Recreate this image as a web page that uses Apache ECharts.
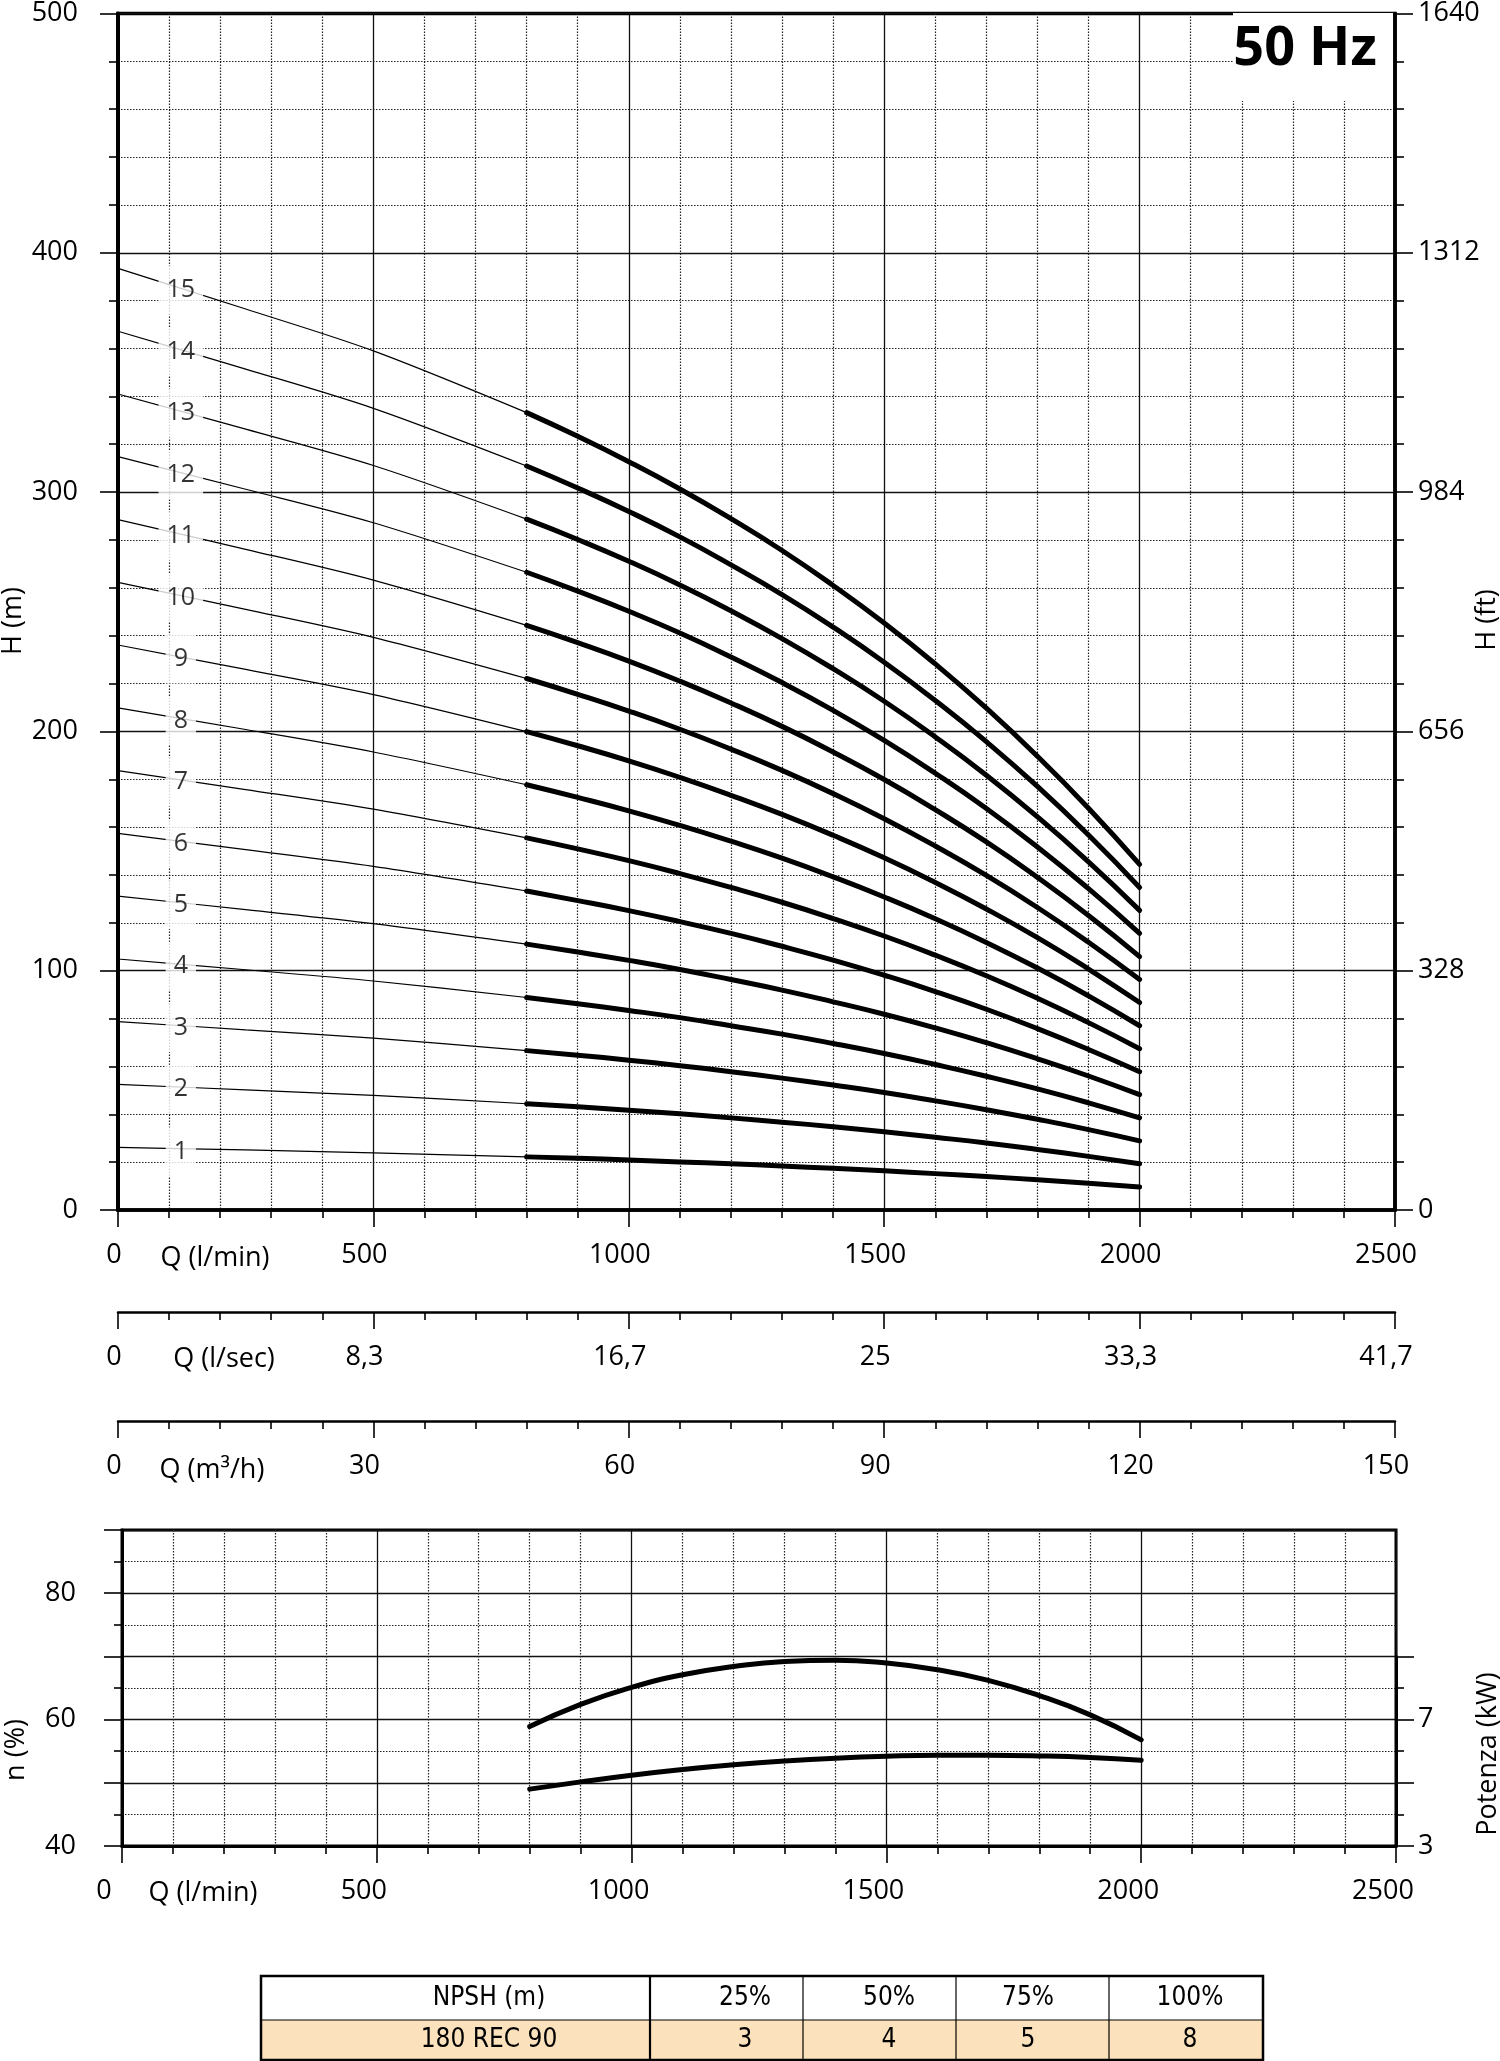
<!DOCTYPE html>
<html><head><meta charset="utf-8">
<script src="https://cdn.jsdelivr.net/npm/echarts@6/dist/echarts.min.js"></script>
<style>html,body{margin:0;padding:0;background:#fff}#c{width:1500px;height:2061px}</style>
</head><body><div id="c"></div>
<script>
// ---------------- DATA ----------------
const stageNames = ['1','2','3','4','5','6','7','8','9','10','11','12','13','14','15'];
const qThin = [0, 250, 500, 800];
const qThick = [800, 900, 1000, 1100, 1200, 1300, 1400, 1500, 1600, 1700, 1800, 1900, 2000];
const headThin = [
  [26.2, 25.1, 23.9, 22.2],
  [52.5, 50.2, 47.9, 44.4],
  [78.7, 75.3, 71.8, 66.6],
  [104.9, 100.4, 95.7, 88.8],
  [131.2, 125.5, 119.7, 111.1],
  [157.4, 150.6, 143.6, 133.3],
  [183.6, 175.7, 167.5, 155.5],
  [209.8, 200.8, 191.4, 177.7],
  [236.1, 225.9, 215.4, 199.9],
  [262.3, 251.0, 239.3, 222.1],
  [288.5, 276.1, 263.2, 244.3],
  [314.8, 301.2, 287.2, 266.5],
  [341.0, 326.3, 311.1, 288.7],
  [367.2, 351.4, 335.0, 310.9],
  [393.5, 376.5, 359.0, 333.2]
];
const headThick = [
  [22.2, 21.6, 20.9, 20.1, 19.3, 18.4, 17.4, 16.4, 15.2, 14.0, 12.6, 11.2, 9.6],
  [44.4, 43.1, 41.7, 40.2, 38.5, 36.7, 34.8, 32.7, 30.4, 28.0, 25.3, 22.4, 19.3],
  [66.6, 64.7, 62.6, 60.3, 57.8, 55.1, 52.2, 49.1, 45.6, 41.9, 37.9, 33.6, 28.9],
  [88.8, 86.2, 83.4, 80.4, 77.0, 73.5, 69.6, 65.4, 60.8, 55.9, 50.6, 44.8, 38.5],
  [111.1, 107.8, 104.3, 100.5, 96.3, 91.9, 87.0, 81.8, 76.1, 69.9, 63.2, 56.0, 48.2],
  [133.3, 129.3, 125.1, 120.5, 115.6, 110.2, 104.4, 98.1, 91.3, 83.9, 75.8, 67.1, 57.8],
  [155.5, 150.9, 146.0, 140.6, 134.8, 128.6, 121.8, 114.5, 106.5, 97.9, 88.5, 78.3, 67.4],
  [177.7, 172.4, 166.8, 160.7, 154.1, 147.0, 139.2, 130.8, 121.7, 111.8, 101.1, 89.5, 77.0],
  [199.9, 194.0, 187.7, 180.8, 173.3, 165.3, 156.6, 147.2, 136.9, 125.8, 113.8, 100.7, 86.7],
  [222.1, 215.5, 208.5, 200.9, 192.6, 183.7, 174.0, 163.5, 152.1, 139.8, 126.4, 111.9, 96.3],
  [244.3, 237.1, 229.4, 221.0, 211.9, 202.1, 191.4, 179.9, 167.3, 153.8, 139.0, 123.1, 105.9],
  [266.5, 258.6, 250.2, 241.1, 231.1, 220.4, 208.8, 196.2, 182.5, 167.8, 151.7, 134.3, 115.6],
  [288.7, 280.2, 271.1, 261.2, 250.4, 238.8, 226.2, 212.6, 197.7, 181.7, 164.3, 145.5, 125.2],
  [310.9, 301.7, 291.9, 281.3, 269.6, 257.2, 243.6, 228.9, 212.9, 195.7, 177.0, 156.7, 134.8],
  [333.2, 323.3, 312.7, 301.3, 288.9, 275.6, 261.0, 245.3, 228.2, 209.7, 189.6, 167.9, 144.4]
];
const stageLabelQ = 123;
const stageLabelH = [24.3, 50.5, 76.2, 101.9, 127.6, 153.2, 178.9, 204.6, 230.3, 256.0, 281.6, 307.3, 333.0, 358.7, 384.4];

const qLow = [800, 900, 1000, 1100, 1200, 1300, 1400, 1500, 1600, 1700, 1800, 1900, 2000];
const efficiency = [58.9, 62.4, 65.1, 67.1, 68.4, 69.2, 69.4, 68.95, 67.9, 66.2, 63.8, 60.75, 56.8];
const powerKW = [4.80, 5.03, 5.24, 5.42, 5.57, 5.69, 5.78, 5.84, 5.87, 5.87, 5.85, 5.80, 5.71];

const qMinLabels = ['0', '500', '1000', '1500', '2000', '2500'];
const qSecLabels = ['0', '8,3', '16,7', '25', '33,3', '41,7'];
const qM3hLabels = ['0', '30', '60', '90', '120', '150'];
const hFtLabels = ['0', '328', '656', '984', '1312', '1640'];
const effLabelValues = [40, 60, 80];
const kwLabelValues = [3, 7];

const npshHeader = ['NPSH (m)', '25%', '50%', '75%', '100%'];
const npshRow = ['180 REC 90', '3', '4', '5', '8'];

// ---------------- STYLE ----------------
const FONT = "'Open Sans', 'Noto Sans', sans-serif";
const NARROW = "'Liberation Sans Narrow', 'DejaVu Sans Condensed', 'Open Sans', sans-serif";
const BLACK = '#000';
const dotted = {color: '#222', width: 1.2, type: [1.5, 1.5]};
const solid = {color: '#111', width: 1.3};

function richFor(padZero, padOther) {
  const base = {fontSize: 27, fontFamily: FONT, color: BLACK};
  return {
    z: Object.assign({padding: [0, padZero, 0, 0]}, base),
    n: Object.assign({padding: [0, padOther, 0, 0]}, base)
  };
}
function qAxis(grid, labels, padZero, padOther, opts) {
  return Object.assign({
    gridIndex: grid, type: 'value', min: 0, max: 2500, interval: 500, position: 'bottom',
    axisLine: {show: true, onZero: false, lineStyle: {color: BLACK, width: 2.5}},
    axisTick: {show: true, length: 17, lineStyle: {color: BLACK, width: 1.6}},
    minorTick: {show: true, splitNumber: 5, length: 8, lineStyle: {color: BLACK, width: 1.6}},
    splitLine: {show: false}, minorSplitLine: {show: false},
    axisLabel: {show: true, fontSize: 27, fontFamily: FONT, color: BLACK, margin: 32,
      showMinLabel: true, showMaxLabel: true, rich: richFor(padZero, padOther),
      formatter: v => (v === 0 ? '{z|' : '{n|') + labels[Math.round(v / 500)] + '}'}
  }, opts || {});
}

const series = [];
for (let i = 0; i < stageNames.length; i++) {
  series.push({
    type: 'line', xAxisIndex: 0, yAxisIndex: 0, symbol: 'none', smooth: 0.3, silent: true, z: 2,
    data: qThin.map((q, j) => [q, headThin[i][j]]),
    lineStyle: {color: BLACK, width: 1.2}
  });
  series.push({
    type: 'line', xAxisIndex: 0, yAxisIndex: 0, symbol: 'none', smooth: 0.5, silent: true, z: 3,
    data: qThick.map((q, j) => [q, headThick[i][j]]),
    lineStyle: {color: BLACK, width: 5, cap: 'round', join: 'round'}
  });
}
series.push({
  type: 'scatter', xAxisIndex: 0, yAxisIndex: 0, symbolSize: 1, silent: true, z: 6,
  itemStyle: {color: 'rgba(0,0,0,0)'},
  data: stageLabelH.map((h, i) => ({name: stageNames[i], value: [stageLabelQ, h]})),
  label: {show: true, position: 'inside', formatter: '{b}', color: BLACK, fontSize: 25, fontFamily: FONT,
    backgroundColor: '#fff', padding: [12, 8], lineHeight: 25}
});
series.push({
  type: 'line', xAxisIndex: 3, yAxisIndex: 4, symbol: 'none', smooth: 0.5, silent: true, z: 3,
  data: qLow.map((q, j) => [q, efficiency[j]]),
  lineStyle: {color: BLACK, width: 5, cap: 'round', join: 'round'}
});
series.push({
  type: 'line', xAxisIndex: 4, yAxisIndex: 5, symbol: 'none', smooth: 0.5, silent: true, z: 3,
  data: qLow.map((q, j) => [q, powerKW[j]]),
  lineStyle: {color: BLACK, width: 5, cap: 'round', join: 'round'}
});

// ---------------- GRAPHIC (texts, table) ----------------
function txt(text, x, y, size, extra, weight) {
  return Object.assign({
    type: 'text', x: x, y: y, z: 60,
    style: {text: text, x: 0, y: 0, fill: BLACK, font: (weight ? weight + ' ' : '') + size + 'px ' + FONT,
      textAlign: 'center', textVerticalAlign: 'middle', align: 'center', verticalAlign: 'middle'}
  }, extra || {});
}
const graphics = [];
graphics.push({type: 'rect', z: 50, shape: {x: 1233, y: 13, width: 160, height: 88}, style: {fill: '#fff'}});
graphics.push(txt('50 Hz', 1305, 50, 54, null, 'bold'));
graphics.push(txt('H (m)', 13, 621, 27, {rotation: Math.PI / 2}));
graphics.push(txt('H (ft)', 1487, 620, 27, {rotation: Math.PI / 2}));
graphics.push(txt('n (%)', 16, 1750, 27, {rotation: Math.PI / 2}));
graphics.push(txt('Potenza (kW)', 1488, 1754, 27, {rotation: Math.PI / 2}));
graphics.push(txt('Q (l/min)', 215, 1258, 27));
graphics.push(txt('Q (l/sec)', 224, 1359, 27));
graphics.push(txt('Q (m³/h)', 212, 1470, 27));
graphics.push(txt('Q (l/min)', 203, 1893, 27));

// table
const colX = [261, 650, 803, 956, 1109, 1263];
const colText = [489, 745, 889, 1028, 1190];
const rowY = [1976, 2020, 2061];
graphics.push({type: 'rect', z: 40, shape: {x: colX[0], y: rowY[1], width: colX[5] - colX[0], height: rowY[2] - rowY[1]},
  style: {fill: '#FCE2BC'}});
graphics.push({type: 'rect', z: 45, shape: {x: colX[0], y: rowY[0], width: colX[5] - colX[0], height: rowY[2] - rowY[0] - 1},
  style: {fill: 'none', stroke: BLACK, lineWidth: 2.5}});
graphics.push({type: 'line', z: 45, shape: {x1: colX[0], y1: rowY[1], x2: colX[5], y2: rowY[1]}, style: {stroke: BLACK, lineWidth: 1.2}});
for (let c = 1; c < 5; c++) {
  graphics.push({type: 'line', z: 45, shape: {x1: colX[c], y1: rowY[0], x2: colX[c], y2: rowY[2]},
    style: {stroke: BLACK, lineWidth: c === 1 ? 2.2 : 1.2}});
}
for (let c = 0; c < 5; c++) {
  graphics.push({type: 'text', x: colText[c], y: (rowY[0] + rowY[1]) / 2, z: 60,
    style: {text: npshHeader[c], x: 0, y: 0, fill: BLACK, font: '26px ' + NARROW,
      textAlign: 'center', textVerticalAlign: 'middle', align: 'center', verticalAlign: 'middle'}});
  graphics.push({type: 'text', x: colText[c], y: (rowY[1] + rowY[2]) / 2, z: 60,
    style: {text: npshRow[c], x: 0, y: 0, fill: BLACK, font: '26px ' + NARROW,
      textAlign: 'center', textVerticalAlign: 'middle', align: 'center', verticalAlign: 'middle'}});
}

// ---------------- OPTION ----------------
const option = {
  animation: false,
  backgroundColor: '#fff',
  grid: [
    {left: 118, top: 7, width: 1277, height: 1203, show: true, borderColor: BLACK, borderWidth: 3.5},
    {left: 118, top: 1311, width: 1277, height: 1},
    {left: 118, top: 1420, width: 1277, height: 1},
    {left: 122, top: 1530, width: 1274, height: 316, show: true, borderColor: BLACK, borderWidth: 3},
    {left: 122, top: 1656.4, width: 1274, height: 189.6}
  ],
  xAxis: [
    qAxis(0, qMinLabels, 8, 18, {axisLine: {show: true, onZero: false, lineStyle: {color: BLACK, width: 3.5}},
      splitLine: {show: true, lineStyle: solid}, minorSplitLine: {show: true, lineStyle: dotted}}),
    qAxis(1, qSecLabels, 8, 18),
    qAxis(2, qM3hLabels, 8, 18),
    qAxis(3, qMinLabels, 36, 26, {axisLine: {show: true, onZero: false, lineStyle: {color: BLACK, width: 3}},
      splitLine: {show: true, lineStyle: solid}, minorSplitLine: {show: true, lineStyle: dotted}}),
    {gridIndex: 4, type: 'value', min: 0, max: 2500, show: false}
  ],
  yAxis: [
    {gridIndex: 0, type: 'value', min: 0, max: 500, interval: 100, position: 'left',
      axisLine: {show: true, onZero: false, lineStyle: {color: BLACK, width: 4}},
      axisTick: {show: true, length: 18, lineStyle: {color: BLACK, width: 1.6}},
      minorTick: {show: true, splitNumber: 5, length: 9, lineStyle: {color: BLACK, width: 1.6}},
      splitLine: {show: true, lineStyle: solid}, minorSplitLine: {show: true, lineStyle: dotted},
      axisLabel: {fontSize: 27, fontFamily: FONT, color: BLACK, margin: 40, showMinLabel: true, showMaxLabel: true,
        formatter: v => String(v)}},
    {gridIndex: 0, type: 'value', min: 0, max: 500, interval: 100, position: 'right',
      axisLine: {show: true, onZero: false, lineStyle: {color: BLACK, width: 3.5}},
      axisTick: {show: true, length: 18, lineStyle: {color: BLACK, width: 1.6}},
      minorTick: {show: true, splitNumber: 5, length: 9, lineStyle: {color: BLACK, width: 1.6}},
      splitLine: {show: false},
      axisLabel: {fontSize: 27, fontFamily: FONT, color: BLACK, margin: 23, showMinLabel: true, showMaxLabel: true,
        formatter: v => hFtLabels[Math.round(v / 100)]}},
    {gridIndex: 1, type: 'value', show: false},
    {gridIndex: 2, type: 'value', show: false},
    {gridIndex: 3, type: 'value', min: 40, max: 90, interval: 10, position: 'left',
      axisLine: {show: true, onZero: false, lineStyle: {color: BLACK, width: 3}},
      axisTick: {show: true, length: 18, lineStyle: {color: BLACK, width: 1.6}},
      minorTick: {show: true, splitNumber: 2, length: 8, lineStyle: {color: BLACK, width: 1.6}},
      splitLine: {show: true, lineStyle: solid}, minorSplitLine: {show: true, lineStyle: dotted},
      axisLabel: {fontSize: 27, fontFamily: FONT, color: BLACK, margin: 46, showMinLabel: true, showMaxLabel: true,
        formatter: v => effLabelValues.indexOf(v) >= 0 ? String(v) : ''}},
    {gridIndex: 4, type: 'value', min: 3, max: 9, interval: 2, position: 'right',
      axisLine: {show: true, onZero: false, lineStyle: {color: BLACK, width: 3}},
      axisTick: {show: true, length: 18, lineStyle: {color: BLACK, width: 1.6}},
      minorTick: {show: true, splitNumber: 2, length: 8, lineStyle: {color: BLACK, width: 1.6}},
      splitLine: {show: false},
      axisLabel: {fontSize: 27, fontFamily: FONT, color: BLACK, margin: 22, showMinLabel: true, showMaxLabel: true,
        formatter: v => kwLabelValues.indexOf(v) >= 0 ? String(v) : ''}}
  ],
  series: series,
  graphic: graphics
};
const chart = echarts.init(document.getElementById('c'), null, {renderer: 'canvas'});
chart.setOption(option);
</script>
</body></html>
